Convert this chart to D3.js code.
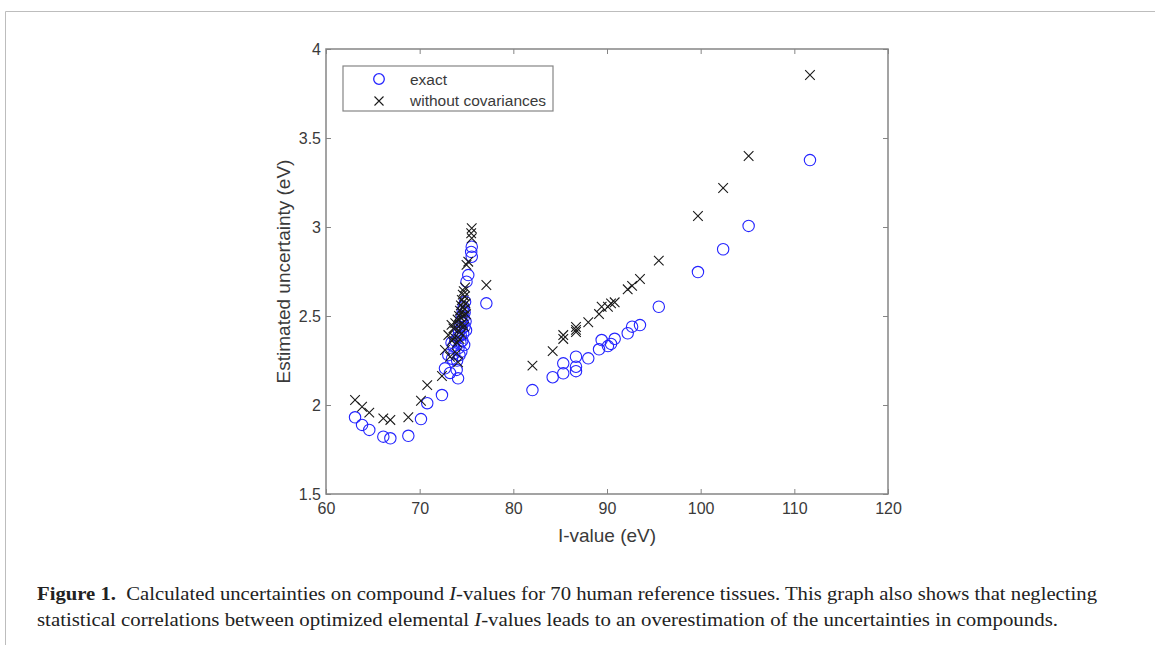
<!DOCTYPE html>
<html>
<head>
<meta charset="utf-8">
<script src="https://cdn.jsdelivr.net/npm/d3@7"></script>
<style>
  html, body { margin: 0; padding: 0; background: #fff; }
  svg { display: block; }
</style>
</head>
<body>
<script>
// I-value of each tissue (eV)
const iValues = [
  63.10, 63.85, 64.62, 66.12, 66.87, 68.79, 70.14, 70.81, 72.38,
  72.70, 73.06, 73.24, 73.45, 73.60, 73.70, 73.80, 73.95, 74.10, 74.00,
  74.05, 74.15, 74.20, 74.25, 74.30, 74.35, 74.40, 74.40, 74.45, 74.50,
  74.50, 74.55, 74.60, 74.60, 74.65, 74.70, 74.70, 74.75, 74.80, 74.80,
  74.85, 74.90, 74.95, 73.40,
  75.00, 75.19, 75.56, 75.50, 75.56, 77.12,
  82.04, 84.20, 85.33, 85.33, 86.69, 86.69, 86.69, 88.00, 89.15, 89.43,
  90.10, 90.43, 90.82, 92.21, 92.68, 93.52, 95.53, 99.71, 102.40, 105.12, 111.67
];
// estimated uncertainty, exact
const exactValues = [
  1.931, 1.888, 1.860, 1.822, 1.813, 1.827, 1.921, 2.010, 2.056,
  2.206, 2.280, 2.180, 2.260, 2.330, 2.290, 2.360, 2.197, 2.150, 2.250,
  2.380, 2.320, 2.410, 2.280, 2.440, 2.350, 2.470, 2.390, 2.300, 2.500,
  2.430, 2.360, 2.530, 2.460, 2.400, 2.550, 2.490, 2.337, 2.440, 2.520,
  2.580, 2.470, 2.420, 2.350,
  2.693, 2.730, 2.889, 2.860, 2.833, 2.571,
  2.084, 2.156, 2.178, 2.234, 2.190, 2.215, 2.271, 2.262, 2.313, 2.365,
  2.331, 2.343, 2.372, 2.403, 2.440, 2.449, 2.552, 2.747, 2.875, 3.006, 3.376
];
// estimated uncertainty, without covariances
const noCovValues = [
  2.028, 1.990, 1.957, 1.925, 1.916, 1.931, 2.024, 2.112, 2.163,
  2.309, 2.393, 2.271, 2.360, 2.430, 2.380, 2.460, 2.290, 2.240, 2.350,
  2.480, 2.420, 2.500, 2.370, 2.530, 2.450, 2.560, 2.490, 2.400, 2.590,
  2.520, 2.460, 2.620, 2.550, 2.500, 2.640, 2.580, 2.440, 2.540, 2.610,
  2.660, 2.570, 2.510, 2.450,
  2.787, 2.805, 2.993, 2.965, 2.937, 2.674,
  2.221, 2.303, 2.371, 2.393, 2.410, 2.422, 2.438, 2.465, 2.511, 2.552,
  2.552, 2.571, 2.577, 2.650, 2.669, 2.708, 2.811, 3.062, 3.219, 3.399, 3.854
];
const xTicks = [60, 70, 80, 90, 100, 110, 120];
const yTicks = [1.5, 2, 2.5, 3, 3.5, 4];
const legendLabels = ['exact', 'without covariances'];

const W = 1155, H = 645;
const plot = { left: 326, right: 888, top: 49, bottom: 494 };
const axisColor = '#858585';
const textColor = '#3a3a3a';
const font = "'Liberation Sans', Arial, sans-serif";

const svg = d3.select('body').append('svg')
  .attr('width', W).attr('height', H);

// page frame lines
svg.append('path')
  .attr('d', `M5.5,${H} V11.5 H${W}`)
  .attr('fill', 'none').attr('stroke', '#bdbdbd').attr('stroke-width', 1);

const x = d3.scaleLinear().domain([60, 120]).range([plot.left, plot.right]);
const y = d3.scaleLinear().domain([1.5, 4]).range([plot.bottom, plot.top]);
const fmt = d3.format('~g');

// axes (ticks inward, mirrored top/right)
const styleAxis = (g) => {
  g.select('.domain').remove();
  g.selectAll('line').attr('stroke', axisColor).attr('stroke-width', 1);
  g.selectAll('text').attr('fill', textColor)
    .style('font-family', font).style('font-size', '16px');
};

svg.append('g')
  .attr('transform', `translate(0,${plot.bottom})`)
  .call(d3.axisBottom(x).tickValues(xTicks).tickFormat(fmt).tickSizeInner(-5).tickSizeOuter(0).tickPadding(9))
  .call(styleAxis);
svg.append('g')
  .attr('transform', `translate(0,${plot.top})`)
  .call(d3.axisTop(x).tickValues(xTicks).tickSizeInner(-5).tickSizeOuter(0).tickFormat(''))
  .call(styleAxis);
svg.append('g')
  .attr('transform', `translate(${plot.left},0)`)
  .call(d3.axisLeft(y).tickValues(yTicks).tickFormat(fmt).tickSizeInner(-5).tickSizeOuter(0).tickPadding(5))
  .call(styleAxis);
svg.append('g')
  .attr('transform', `translate(${plot.right},0)`)
  .call(d3.axisRight(y).tickValues(yTicks).tickSizeInner(-5).tickSizeOuter(0).tickFormat(''))
  .call(styleAxis);

// plot box
svg.append('rect')
  .attr('x', plot.left).attr('y', plot.top)
  .attr('width', plot.right - plot.left).attr('height', plot.bottom - plot.top)
  .attr('fill', 'none').attr('stroke', axisColor).attr('stroke-width', 1.5);

// axis labels
svg.append('text')
  .attr('x', 607).attr('y', 542)
  .attr('text-anchor', 'middle').attr('fill', textColor)
  .style('font-family', font).style('font-size', '19px')
  .text('I-value (eV)');
svg.append('text')
  .attr('transform', `translate(290,${(plot.top + plot.bottom) / 2}) rotate(-90)`)
  .attr('text-anchor', 'middle').attr('fill', textColor)
  .style('font-family', font).style('font-size', '19px')
  .text('Estimated uncertainty (eV)');

const crossPath = (s) => `M${-s},${-s}L${s},${s}M${-s},${s}L${s},${-s}`;

// exact (circles)
svg.append('g').selectAll('circle')
  .data(iValues)
  .join('circle')
  .attr('cx', d => x(d))
  .attr('cy', (d, i) => y(exactValues[i]))
  .attr('r', 5.7)
  .attr('fill', 'none').attr('stroke', '#2424ff').attr('stroke-width', 1.1);

// without covariances (crosses)
svg.append('g').selectAll('path')
  .data(iValues)
  .join('path')
  .attr('transform', (d, i) => `translate(${x(d)},${y(noCovValues[i])})`)
  .attr('d', crossPath(4.8))
  .attr('fill', 'none').attr('stroke', '#1a1a1a').attr('stroke-width', 1.1);

// legend
const lg = svg.append('g');
lg.append('rect')
  .attr('x', 343).attr('y', 66).attr('width', 210).attr('height', 45)
  .attr('fill', '#fff').attr('stroke', axisColor).attr('stroke-width', 1.2);
lg.append('circle')
  .attr('cx', 379).attr('cy', 79).attr('r', 5.3)
  .attr('fill', 'none').attr('stroke', '#2424ff').attr('stroke-width', 1.3);
lg.append('path')
  .attr('transform', 'translate(379,101)')
  .attr('d', crossPath(4.5))
  .attr('fill', 'none').attr('stroke', '#1a1a1a').attr('stroke-width', 1.1);
lg.selectAll('text')
  .data(legendLabels)
  .join('text')
  .attr('x', 410).attr('y', (d, i) => 85 + i * 21)
  .attr('fill', textColor)
  .style('font-family', font).style('font-size', '15.5px')
  .text(d => d);

// caption
const serif = "'Liberation Serif', 'DejaVu Serif', serif";
const cap1 = svg.append('text')
  .attr('x', 37).attr('y', 600)
  .attr('textLength', 1060).attr('lengthAdjust', 'spacingAndGlyphs')
  .attr('fill', '#222').style('font-family', serif).style('font-size', '19px');
cap1.append('tspan').style('font-weight', 'bold').text('Figure 1.');
cap1.append('tspan').text('\u00a0\u00a0Calculated uncertainties on compound ');
cap1.append('tspan').style('font-style', 'italic').text('I');
cap1.append('tspan').text('-values for 70 human reference tissues. This graph also shows that neglecting');

const cap2 = svg.append('text')
  .attr('x', 37).attr('y', 626)
  .attr('textLength', 1021).attr('lengthAdjust', 'spacingAndGlyphs')
  .attr('fill', '#222').style('font-family', serif).style('font-size', '19px');
cap2.append('tspan').text('statistical correlations between optimized elemental ');
cap2.append('tspan').style('font-style', 'italic').text('I');
cap2.append('tspan').text('-values leads to an overestimation of the uncertainties in compounds.');
</script>
</body>
</html>
